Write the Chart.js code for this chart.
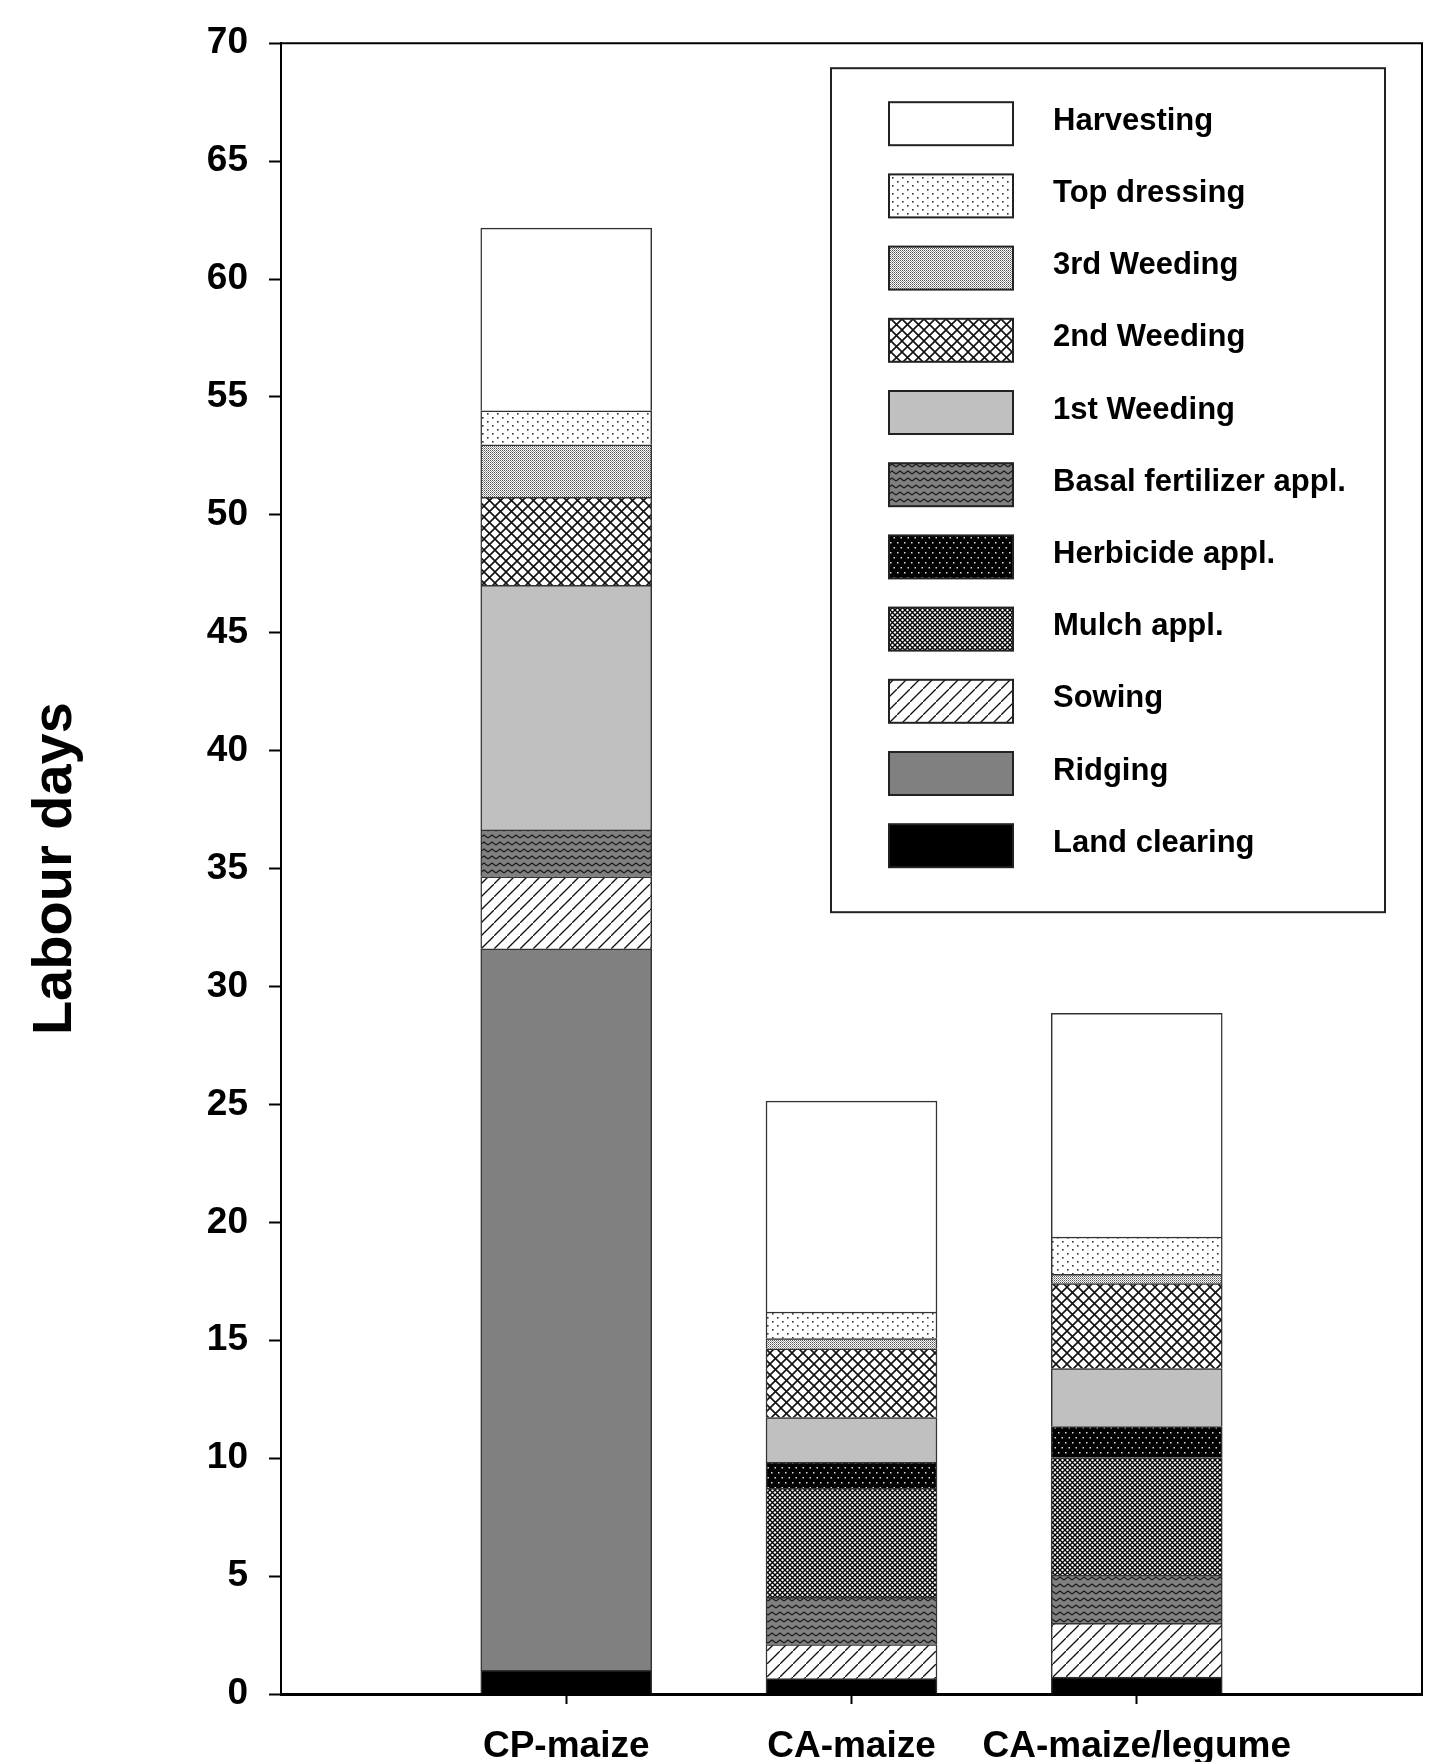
<!DOCTYPE html>
<html>
<head>
<meta charset="utf-8">
<title>Labour days</title>
<script src="https://cdn.jsdelivr.net/npm/chart.js@4.4.1/dist/chart.umd.min.js"></script>
<style>
  html, body { margin: 0; padding: 0; background: #fff; }
  canvas { display: block; }
</style>
</head>
<body>
<canvas id="chart" width="1430" height="1762"></canvas>
<script>
// values (labour days), stacked bottom -> top
const categories = ["CP-maize", "CA-maize", "CA-maize/legume"];
const landClearing = [1.0, 0.65, 0.72];
const ridging = [30.6, 0, 0];
const sowing = [3.05, 1.45, 2.28];
const basalFertilizer = [1.99, 2.0, 2.04];
const mulch = [0, 4.62, 4.99];
const herbicide = [0, 1.1, 1.31];
const weeding1 = [10.37, 1.9, 2.46];
const weeding2 = [3.73, 2.92, 3.6];
const weeding3 = [2.23, 0.43, 0.4];
const topDressing = [1.44, 1.13, 1.58];
const harvesting = [7.75, 8.94, 9.48];

const yMin = 0;
const yMax = 70;
const yStep = 5;

// order in which the legend lists them (top -> bottom)
const legendOrder = [
  "Harvesting", "Top dressing", "3rd Weeding", "2nd Weeding", "1st Weeding",
  "Basal fertilizer appl.", "Herbicide appl.", "Mulch appl.", "Sowing",
  "Ridging", "Land clearing",
];

const FONT = '"Liberation Sans", Arial, Helvetica, sans-serif';

function makePattern(w, h, paint) {
  const c = document.createElement("canvas");
  c.width = w;
  c.height = h;
  const g = c.getContext("2d");
  paint(g, w, h);
  return g.createPattern(c, "repeat");
}

const fills = {
  harvesting: "#ffffff",
  topDressing: makePattern(10, 8, (g, w, h) => {
    g.fillStyle = "#fff"; g.fillRect(0, 0, w, h);
    g.fillStyle = "#333";
    g.fillRect(2, 1, 1.6, 1.6);
    g.fillRect(7, 5, 1.6, 1.6);
  }),
  weeding3: makePattern(2, 2, (g, w, h) => {
    g.fillStyle = "#fff"; g.fillRect(0, 0, w, h);
    g.fillStyle = "#555"; g.fillRect(0, 0, 1, 1);
    g.fillStyle = "#999"; g.fillRect(1, 1, 1, 1);
  }),
  weeding2: makePattern(11, 11, (g, w, h) => {
    g.fillStyle = "#fff"; g.fillRect(0, 0, w, h);
    g.strokeStyle = "#111"; g.lineWidth = 1.6;
    g.beginPath();
    g.moveTo(-1, -1); g.lineTo(w + 1, h + 1);
    g.moveTo(-1, h + 1); g.lineTo(w + 1, -1);
    g.stroke();
  }),
  weeding1: "#c0c0c0",
  basal: makePattern(8, 7, (g, w, h) => {
    g.fillStyle = "#808080"; g.fillRect(0, 0, w, h);
    g.strokeStyle = "#1a1a1a"; g.lineWidth = 1.2;
    g.beginPath();
    g.moveTo(0, 5); g.lineTo(4, 2); g.lineTo(8, 5);
    g.stroke();
  }),
  herbicide: makePattern(7, 10, (g, w, h) => {
    g.fillStyle = "#000"; g.fillRect(0, 0, w, h);
    g.fillStyle = "#ddd";
    g.fillRect(1, 2, 1.5, 1.5);
    g.fillRect(4.5, 7, 1.5, 1.5);
  }),
  mulch: makePattern(5, 5, (g, w, h) => {
    g.fillStyle = "#fff"; g.fillRect(0, 0, w, h);
    g.strokeStyle = "#000"; g.lineWidth = 1.4;
    g.beginPath();
    g.moveTo(-1, -1); g.lineTo(w + 1, h + 1);
    g.moveTo(-1, h + 1); g.lineTo(w + 1, -1);
    g.stroke();
  }),
  sowing: makePattern(13, 13, (g, w, h) => {
    g.fillStyle = "#fff"; g.fillRect(0, 0, w, h);
    g.strokeStyle = "#111"; g.lineWidth = 1.3;
    g.beginPath();
    g.moveTo(-1, h + 1); g.lineTo(w + 1, -1);
    g.stroke();
  }),
  ridging: "#808080",
  landClearing: "#000000",
};

// pad with an empty slot on each side so the bars sit at 1/4, 2/4, 3/4 of the axis
const labels = ["", ...categories, ""];
const pad = (arr) => [null, ...arr, null];

function series(label, values, fill) {
  return {
    label: label,
    data: pad(values),
    backgroundColor: fill,
    borderColor: "#333",
    borderWidth: 1.5,
    barThickness: 171,
  };
}

const datasets = [
  series("Land clearing", landClearing, fills.landClearing),
  series("Ridging", ridging, fills.ridging),
  series("Sowing", sowing, fills.sowing),
  series("Basal fertilizer appl.", basalFertilizer, fills.basal),
  series("Mulch appl.", mulch, fills.mulch),
  series("Herbicide appl.", herbicide, fills.herbicide),
  series("1st Weeding", weeding1, fills.weeding1),
  series("2nd Weeding", weeding2, fills.weeding2),
  series("3rd Weeding", weeding3, fills.weeding3),
  series("Top dressing", topDressing, fills.topDressing),
  series("Harvesting", harvesting, fills.harvesting),
];

// top and right edges of the frame + the boxed legend
const framePlugin = {
  id: "frameAndLegend",
  afterDraw(chart) {
    const ctx = chart.ctx;
    const a = chart.chartArea;
    ctx.save();
    ctx.strokeStyle = "#000";
    ctx.lineWidth = 2;
    ctx.beginPath();
    ctx.moveTo(a.left, a.top);
    ctx.lineTo(a.right, a.top);
    ctx.lineTo(a.right, a.bottom);
    ctx.stroke();

    const x0 = a.right - 591;
    const y0 = a.top + 25;
    ctx.strokeStyle = "#222";
    ctx.strokeRect(x0, y0, 554, 844);

    ctx.font = "bold 31px " + FONT;
    ctx.textBaseline = "middle";
    ctx.textAlign = "left";
    legendOrder.forEach((name, i) => {
      const ds = chart.data.datasets.find((d) => d.label === name);
      const sy = y0 + 34 + i * 72.2;
      ctx.fillStyle = ds.backgroundColor;
      ctx.fillRect(x0 + 58, sy, 124, 43);
      ctx.lineWidth = 2;
      ctx.strokeStyle = "#222";
      ctx.strokeRect(x0 + 58, sy, 124, 43);
      ctx.fillStyle = "#000";
      ctx.fillText(name, x0 + 222, sy + 19);
    });
    ctx.restore();
  },
};

new Chart(document.getElementById("chart"), {
  type: "bar",
  data: { labels: labels, datasets: datasets },
  options: {
    responsive: false,
    animation: false,
    devicePixelRatio: 1,
    layout: { padding: { top: 41, right: 8, left: 0, bottom: 0 } },
    plugins: {
      legend: { display: false },
      tooltip: { enabled: false },
    },
    scales: {
      x: {
        stacked: true,
        offset: false,
        afterFit: (scale) => {
          scale.height = 68;
          scale.paddingLeft = 0;
          scale.paddingRight = 0;
        },
        grid: {
          drawOnChartArea: false,
          offset: false,
          tickLength: 10,
          tickWidth: 2,
          tickColor: (c) => (c.index === 0 || c.index === labels.length - 1 ? "rgba(0,0,0,0)" : "#000"),
        },
        border: { display: true, color: "#000", width: 3, z: 1 },
        ticks: {
          autoSkip: false,
          maxRotation: 0,
          padding: 21,
          color: "#000",
          font: { family: FONT, size: 37, weight: "bold" },
        },
      },
      y: {
        stacked: true,
        min: yMin,
        max: yMax,
        afterFit: (scale) => { scale.width = 281; },
        grid: {
          drawOnChartArea: false,
          tickLength: 12,
          tickWidth: 2,
          tickColor: "#000",
        },
        border: { display: true, color: "#000", width: 2, z: 1 },
        ticks: {
          stepSize: yStep,
          padding: 21,
          color: "#000",
          font: { family: FONT, size: 37, weight: "bold" },
        },
        title: {
          display: true,
          text: "Labour days",
          color: "#000",
          padding: { top: 22, bottom: 0 },
          font: { family: FONT, size: 56, weight: "bold" },
        },
      },
    },
  },
  plugins: [framePlugin],
});
</script>
</body>
</html>
